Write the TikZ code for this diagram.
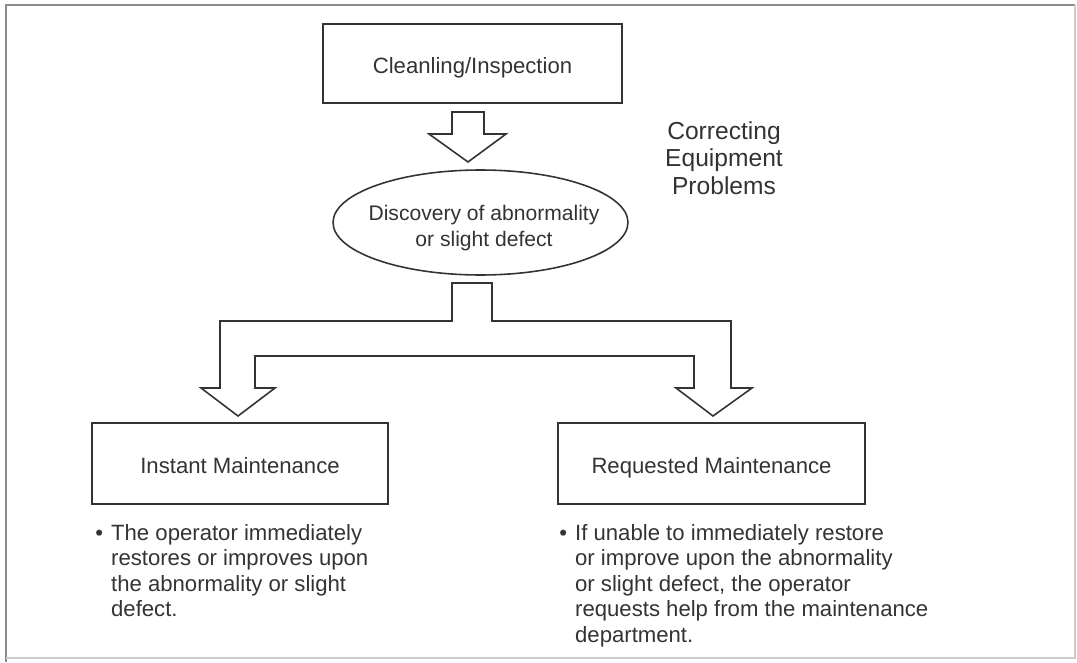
\documentclass[tikz,border=0pt]{standalone}
\usepackage{fontspec}
\setmainfont{Liberation Sans}
\usetikzlibrary{shapes.geometric}

\definecolor{inkgray}{HTML}{333333}
\definecolor{framegray}{HTML}{8C8C8C}
\newcommand{\noteindent}{\hspace*{9pt}}

\begin{document}
\begin{tikzpicture}[x=0.02cm, y=-0.02cm,
    box/.style = {rectangle, draw=inkgray, line width=0.9pt, inner sep=0pt, minimum height=1.62cm, text height=11pt, text depth=0pt, text=inkgray, font=\fontsize{12.6}{15}\selectfont},
    bigarrow/.style = {draw=inkgray, line width=0.9pt, line join=miter},
    note/.style = {align=left, inner sep=0pt, text=inkgray, font=\fontsize{12.6}{14.5}\selectfont}]

    \useasboundingbox (0,0) rectangle (1077,662);

    % frame round the figure
    \draw [framegray, line width=1.4pt] (1075,5) -- (6,5) -- (6,662);
    \draw [framegray!45, line width=0.6pt] (6,658) -- (1075,658) -- (1075,5);

    \node (clean) [box, minimum width=5.98cm, minimum height=1.58cm] at (472.5, 63.5) {Cleanling/Inspection};
    \node (disc) [ellipse, draw=inkgray, line width=0.9pt, minimum width=5.9cm, minimum height=2.1cm] at (480.5, 222.5) {};
    \node (disctext) [align=center, inner sep=0pt, text=inkgray, font=\fontsize{12}{15.3}\selectfont] at (484, 228) {Discovery of abnormality\\or slight defect};
    \node (title) [align=center, inner sep=0pt, text=inkgray, font=\fontsize{14}{15.6}\selectfont] at (724, 158) {Correcting\\Equipment\\Problems};

    \node (inst) [box, minimum width=5.92cm] at (240, 463.5) {Instant Maintenance};
    \node (req) [box, minimum width=6.14cm] at (711.5, 463.5) {Requested Maintenance};

    % block arrows
    \draw [bigarrow] (452,112) -- (484,112) -- (484,134) -- (506,134) -- (468,162)
      -- (429,134) -- (452,134) -- cycle;
    \draw [bigarrow] (452,283) -- (492,283) -- (492,321) -- (731,321) -- (731,388)
      -- (752,388) -- (713,416) -- (676,388) -- (694,388) -- (694,356) -- (255,356)
      -- (255,388) -- (275,388) -- (238,416) -- (201,388) -- (220,388) -- (220,321)
      -- (452,321) -- cycle;

    \node (instnote) [note, anchor=north west] at (95, 524)
      {\makebox[9pt][l]{\textbullet}The operator immediately\\
       \noteindent restores or improves upon\\
       \noteindent the abnormality or slight\\
       \noteindent defect.};
    \node (reqnote) [note, anchor=north west] at (559, 524)
      {\makebox[9pt][l]{\textbullet}If unable to immediately restore\\
       \noteindent or improve upon the abnormality\\
       \noteindent or slight defect, the operator\\
       \noteindent requests help from the maintenance\\
       \noteindent department.};
  \end{tikzpicture}
\end{document}
